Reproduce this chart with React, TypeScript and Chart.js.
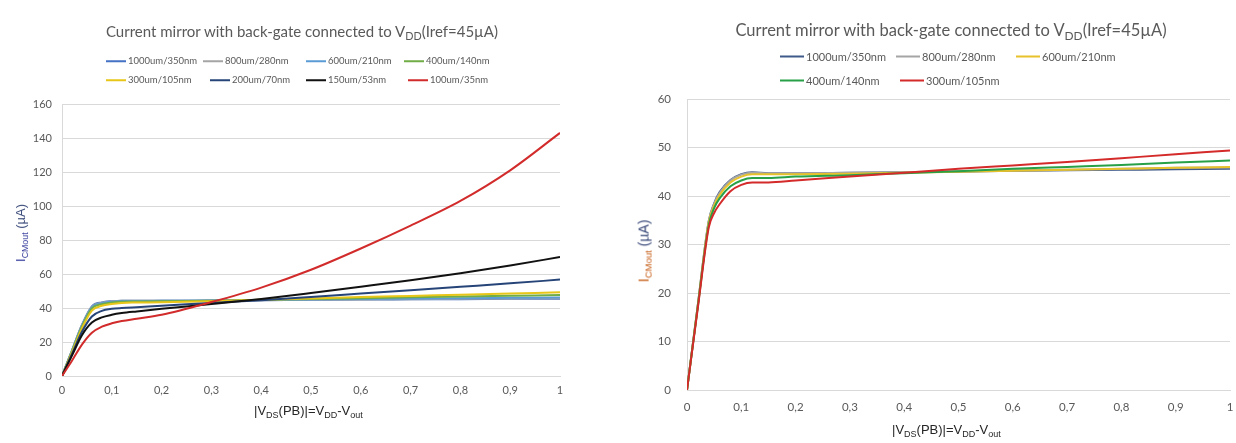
import React, { useEffect, useRef } from "react";
import { Chart, registerables } from "chart.js";

Chart.register(...registerables);

// ---------- Left chart data ----------
const leftX = [0, 0.02, 0.04, 0.06, 0.08, 0.1, 0.12, 0.15, 0.2, 0.3, 0.4, 0.5, 0.6, 0.7, 0.8, 0.9, 1];
const leftLabels = ["1000um/350nm", "800um/280nm", "600um/210nm", "400um/140nm", "300um/105nm", "200um/70nm", "150um/53nm", "100um/35nm"];
const leftColors = ["#4472c4", "#a5a5a5", "#5b9bd5", "#70ad47", "#e8c619", "#264478", "#111111", "#d22b2b"];
const left1000_350 = [0, 15, 30, 41, 43.3, 44, 44.3, 44.2, 44.2, 44.4, 44.6, 44.8, 45, 45.1, 45.2, 45.4, 45.5];
const left800_280 = [0, 15, 30, 40.8, 43.1, 43.9, 44.2, 44.2, 44.2, 44.4, 44.6, 44.8, 45, 45.2, 45.4, 45.6, 45.8];
const left600_210 = [0, 15, 29.5, 40.5, 42.8, 43.7, 44.1, 44.1, 44.2, 44.4, 44.7, 45, 45.3, 45.5, 45.8, 46, 46.2];
const left400_140 = [0, 14.5, 29, 39.8, 42.2, 43.2, 43.7, 43.8, 43.9, 44.3, 44.8, 45.3, 45.8, 46.3, 46.8, 47.2, 47.6];
const left300_105 = [0, 14, 28, 38.5, 41.3, 42.4, 43, 43.2, 43.4, 44, 44.8, 45.6, 46.4, 47.1, 47.8, 48.5, 49.2];
const left200_70 = [0, 13, 26, 35, 38.3, 39.5, 40, 40.5, 41.3, 43, 44.6, 46.5, 48.5, 50.5, 52.5, 54.5, 56.7];
const left150_53 = [0, 12, 24, 31.5, 34.5, 36, 37, 38, 39.5, 42.3, 45.3, 48.8, 52.5, 56.3, 60.5, 65, 70];
const left100_35 = [0, 9, 18.5, 25.5, 29, 31, 32.3, 33.7, 36, 43.5, 52, 62.5, 75, 88.5, 103, 121, 143];
const leftSeries = [left1000_350, left800_280, left600_210, left400_140, left300_105, left200_70, left150_53, left100_35];
const leftYTicks = { min: 0, max: 160, step: 20 };

// ---------- Right chart data ----------
const rightX = [0, 0.02, 0.04, 0.05, 0.06, 0.08, 0.1, 0.12, 0.15, 0.2, 0.3, 0.4, 0.5, 0.6, 0.7, 0.8, 0.9, 1];
const rightLabels = ["1000um/350nm", "800um/280nm", "600um/210nm", "400um/140nm", "300um/105nm"];
const rightColors = ["#3f5a8a", "#a5a5a5", "#e8c22a", "#27a048", "#d42a2a"];
const right1000_350 = [0, 17.6, 34.8, 38.5, 40.8, 43.3, 44.5, 44.9, 44.7, 44.7, 44.8, 44.9, 45, 45.2, 45.3, 45.4, 45.5, 45.6];
const right800_280 = [0, 17.6, 34.8, 38.4, 40.6, 43.2, 44.4, 44.8, 44.7, 44.7, 44.8, 44.9, 45.1, 45.3, 45.4, 45.6, 45.8, 45.9];
const right600_210 = [0, 17.5, 34.5, 38, 40.2, 42.8, 44, 44.5, 44.5, 44.5, 44.6, 44.8, 45, 45.2, 45.4, 45.6, 45.8, 46];
const right400_140 = [0, 17.3, 34, 37.5, 39.5, 42, 43.2, 43.7, 43.7, 44, 44.3, 44.7, 45.1, 45.6, 46, 46.4, 46.9, 47.3];
const right300_105 = [0, 17, 33.5, 36.5, 38.3, 41, 42.3, 42.8, 42.8, 43.2, 44, 44.8, 45.6, 46.3, 47, 47.8, 48.6, 49.4];
const rightSeries = [right1000_350, right800_280, right600_210, right400_140, right300_105];
const rightYTicks = { min: 0, max: 60, step: 10 };

const TITLE_MAIN = "Current mirror with back-gate connected to V";
const TITLE_SUB = "DD";
const TITLE_END = "(Iref=45µA)";

const TICK_FONT = "Lato, 'Open Sans', sans-serif";
const GRID = "#d9d9d9";

type PanelCfg = {
  xs: number[];
  series: number[][];
  labels: string[];
  colors: string[];
  yTicks: { min: number; max: number; step: number };
  padding: { left: number; top: number; right: number; bottom: number };
  yPad: number;
  xPad: number;
  tickSize: number;
};

function LineChart({ cfg }: { cfg: PanelCfg }) {
  const ref = useRef<HTMLCanvasElement | null>(null);
  useEffect(() => {
    if (!ref.current) return;
    const n = cfg.series.length;
    const chart = new Chart(ref.current, {
      type: "line",
      data: {
        datasets: cfg.series.map((s, i) => ({
          label: cfg.labels[i],
          data: s.map((v, j) => ({ x: cfg.xs[j], y: v })),
          borderColor: cfg.colors[i],
          backgroundColor: cfg.colors[i],
          borderWidth: 2,
          pointRadius: 0,
          cubicInterpolationMode: "monotone" as const,
          fill: false,
          order: n - i,
        })),
      },
      options: {
        responsive: false,
        animation: false,
        devicePixelRatio: 1,
        layout: { padding: cfg.padding },
        plugins: { legend: { display: false }, title: { display: false }, tooltip: { enabled: false } },
        scales: {
          x: {
            type: "linear",
            min: 0,
            max: 1,
            afterFit: (s: any) => { s.height = 30; s.paddingLeft = 0; s.paddingRight = 0; },
            grid: { display: false, drawTicks: false },
            border: { display: true, color: GRID },
            ticks: {
              stepSize: 0.1,
              padding: cfg.xPad,
              color: "#595959",
              font: { family: TICK_FONT, size: cfg.tickSize },
              maxRotation: 0,
              callback: (v: any) => {
                const num = Math.round(Number(v) * 10) / 10;
                return String(num).replace(".", ",");
              },
            },
          },
          y: {
            min: cfg.yTicks.min,
            max: cfg.yTicks.max,
            afterFit: (s: any) => { s.width = 50; },
            grid: { color: GRID, lineWidth: 1, drawTicks: false },
            border: { display: true, color: GRID },
            ticks: {
              stepSize: cfg.yTicks.step,
              padding: cfg.yPad,
              color: "#595959",
              font: { family: TICK_FONT, size: cfg.tickSize },
            },
          },
        },
      },
    });
    return () => chart.destroy();
  }, [cfg]);
  return <canvas ref={ref} width={618} height={443} style={{ position: "absolute", left: 0, top: 0 }} />;
}

const leftCfg: PanelCfg = {
  xs: leftX,
  series: leftSeries,
  labels: leftLabels,
  colors: leftColors,
  yTicks: leftYTicks,
  padding: { left: 12, top: 104, right: 58, bottom: 37 },
  yPad: 10,
  xPad: 8,
  tickSize: 11,
};

const rightCfg: PanelCfg = {
  xs: rightX,
  series: rightSeries,
  labels: rightLabels,
  colors: rightColors,
  yTicks: rightYTicks,
  padding: { left: 19, top: 99, right: 6, bottom: 23 },
  yPad: 16,
  xPad: 10,
  tickSize: 11.5,
};

function Title({ cx, cy, size }: { cx: number; cy: number; size: number }) {
  return (
    <div
      style={{
        position: "absolute", left: cx, top: cy, transform: "translate(-50%,-50%)",
        whiteSpace: "nowrap", fontFamily: "Lato, sans-serif", fontSize: size, color: "#595959", lineHeight: 1,
      }}
    >
      {TITLE_MAIN}
      <sub style={{ fontSize: size * 0.72, verticalAlign: "-0.3em" }}>{TITLE_SUB}</sub>
      {TITLE_END}
    </div>
  );
}

function Legend({ items, colors, rows, size, lineW }: { items: string[]; colors: string[]; rows: { y: number; xs: number[] }[]; size: number; lineW: number }) {
  let k = 0;
  const out: React.ReactNode[] = [];
  rows.forEach((r) => {
    r.xs.forEach((x) => {
      const i = k++;
      if (i >= items.length) return;
      out.push(
        <div key={i} style={{ position: "absolute", left: x, top: r.y, transform: "translateY(-50%)", display: "flex", alignItems: "center", whiteSpace: "nowrap" }}>
          <span style={{ display: "inline-block", width: lineW, height: 2, background: colors[i], marginRight: 2 }} />
          <span style={{ fontFamily: "Lato, sans-serif", fontSize: size, color: "#595959", lineHeight: 1 }}>{items[i]}</span>
        </div>
      );
    });
  });
  return <>{out}</>;
}

function YTitle({ cx, cy, color, unitColor, size }: { cx: number; cy: number; color: string; unitColor: string; size: number }) {
  return (
    <div
      style={{
        position: "absolute", left: cx, top: cy, transform: "translate(-50%,-50%) rotate(-90deg)",
        whiteSpace: "nowrap", fontFamily: "'Liberation Sans', Arial, sans-serif", fontSize: size, lineHeight: 1,
      }}
    >
      <span style={{ color }}>I<sub style={{ fontSize: size * 0.68, verticalAlign: "-0.35em" }}>CMout</sub></span>
      <span style={{ color: unitColor }}> (µA)</span>
    </div>
  );
}

function XTitle({ x, cy }: { x: number; cy: number }) {
  const sub = { fontSize: 9, verticalAlign: "-0.35em" } as const;
  return (
    <div
      style={{
        position: "absolute", left: x, top: cy, transform: "translateY(-50%)",
        whiteSpace: "nowrap", fontFamily: "'Liberation Sans', Arial, sans-serif", fontSize: 13, color: "#262626", lineHeight: 1,
      }}
    >
      |V<sub style={sub}>DS</sub>(PB)|=V<sub style={sub}>DD</sub>-V<sub style={sub}>out</sub>
    </div>
  );
}

export default function App() {
  return (
    <div style={{ position: "fixed", left: 0, top: 0, width: 1236, height: 443, background: "#fff", overflow: "hidden" }}>
      <div style={{ position: "absolute", left: 0, top: 0, width: 618, height: 443 }}>
        <LineChart cfg={leftCfg} />
        <Title cx={302} cy={33} size={15} />
        <Legend
          items={leftLabels}
          colors={leftColors}
          rows={[{ y: 61, xs: [106, 203, 306, 404] }, { y: 80, xs: [106, 210, 306, 408] }]}
          size={9.5}
          lineW={20}
        />
        <YTitle cx={22} cy={233} color="#2f3699" unitColor="#3a4a7a" size={13} />
        <XTitle x={254} cy={412} />
      </div>
      <div style={{ position: "absolute", left: 618, top: 0, width: 618, height: 443 }}>
        <LineChart cfg={rightCfg} />
        <Title cx={333} cy={32} size={16.5} />
        <Legend
          items={rightLabels}
          colors={rightColors}
          rows={[{ y: 56, xs: [162, 278, 398] }, { y: 80, xs: [162, 282] }]}
          size={11}
          lineW={24}
        />
        <YTitle cx={27} cy={251} color="#c55a11" unitColor="#3a4a7a" size={14} />
        <XTitle x={274} cy={431} />
      </div>
    </div>
  );
}
